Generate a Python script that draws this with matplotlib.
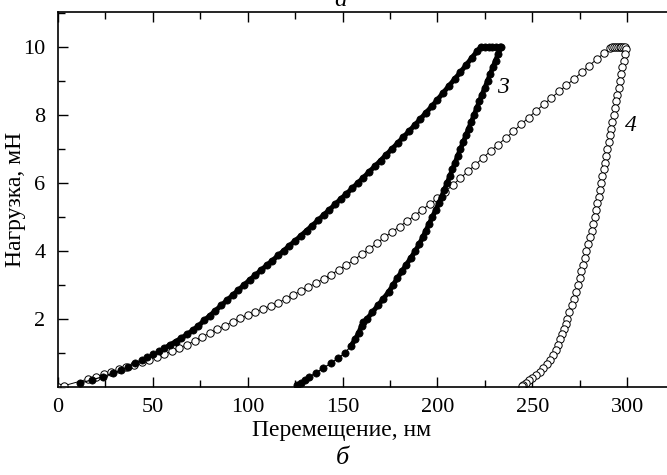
import numpy as np
import matplotlib
matplotlib.use('Agg')
import matplotlib.pyplot as plt
from matplotlib.ticker import MultipleLocator

plt.rcParams['font.family'] = ['Liberation Serif', 'DejaVu Serif']

# curve 3 (filled), loading branch + hold at 10 mN
load3_x = [11.6, 17.7, 23.8, 29, 33, 37, 40.5, 44, 47, 50, 53, 56, 59, 62, 65, 68, 71, 74, 77, 80,
           83, 86, 89, 92, 95, 98, 101, 104, 107, 110, 113, 116, 119, 122, 125, 128, 131, 134, 137, 140,
           143, 146, 149, 152, 155, 158, 161, 164, 167, 170, 173, 176, 179, 182, 185, 188, 191, 194, 197, 200,
           203, 206, 209, 212, 215, 218, 221, 223, 225, 227, 229, 231, 233]
load3_y = [0.12, 0.21, 0.31, 0.41, 0.50, 0.60, 0.70, 0.79, 0.88, 0.96, 1.05, 1.14, 1.24, 1.34, 1.44, 1.55, 1.67, 1.80, 1.96, 2.10,
           2.25, 2.40, 2.55, 2.70, 2.85, 3.00, 3.15, 3.29, 3.44, 3.58, 3.72, 3.87, 4.01, 4.16, 4.30, 4.45, 4.60, 4.75, 4.90, 5.06,
           5.21, 5.37, 5.53, 5.68, 5.84, 6.00, 6.16, 6.33, 6.49, 6.66, 6.83, 7.00, 7.17, 7.35, 7.52, 7.70, 7.88, 8.07, 8.25, 8.45,
           8.65, 8.85, 9.05, 9.25, 9.46, 9.67, 9.88, 10.0, 10.0, 10.0, 10.0, 10.0, 10.0]

# curve 3 unloading branch
unl3_x = [233.5, 232.1, 230.6, 229.2, 227.8, 226.4, 225.0, 223.5, 222.1, 220.7, 219.3, 217.9, 216.4, 215.0, 213.6,
          212.1, 210.7, 209.3, 207.9, 206.5, 205.1, 203.6, 202.2, 200.7, 199.0, 197.3, 195.6, 193.9, 192.2, 190.4,
          188.3, 186.0, 183.6, 181.2, 178.8, 176.6, 174.3, 171.5, 168.6, 165.7, 162.8, 161.0, 160.0, 158.5, 156.6,
          154.2, 151.2, 147.5, 143.8, 139.6, 136.0, 132.5, 130.0, 128.0, 126.2]
unl3_y = [10.0, 9.8, 9.6, 9.4, 9.2, 9.0, 8.8, 8.6, 8.4, 8.2, 8.0, 7.8, 7.6, 7.4, 7.2,
          7.0, 6.8, 6.6, 6.4, 6.2, 6.0, 5.8, 5.6, 5.4, 5.2, 5.0, 4.8, 4.6, 4.4, 4.2,
          4.0, 3.8, 3.6, 3.4, 3.2, 3.0, 2.8, 2.6, 2.4, 2.2, 2.0, 1.9, 1.8, 1.6, 1.4,
          1.2, 1.0, 0.85, 0.7, 0.55, 0.42, 0.3, 0.2, 0.12, 0.05]

# curve 4 (open), loading branch + hold
load4_x = [0, 3, 16, 20, 24, 28, 32, 36, 40, 44, 48, 52, 56, 60, 64, 68, 72, 76, 80, 84, 88, 92, 96, 100,
           104, 108, 112, 116, 120, 124, 128, 132, 136, 140, 144, 148, 152, 156, 160, 164, 168, 172, 176, 180,
           184, 188, 192, 196, 200, 204, 208, 212, 216, 220, 224, 228, 232, 236, 240, 244, 248, 252, 256, 260,
           264, 268, 272, 276, 280, 284, 288, 291, 292, 293, 294, 295, 296, 297, 298, 299]
load4_y = [0, 0.04, 0.24, 0.31, 0.38, 0.45, 0.52, 0.59, 0.66, 0.73, 0.81, 0.89, 0.97, 1.06, 1.15, 1.25, 1.36, 1.48, 1.59, 1.70, 1.81, 1.91, 2.02, 2.12,
           2.21, 2.30, 2.39, 2.48, 2.59, 2.71, 2.83, 2.94, 3.06, 3.18, 3.31, 3.45, 3.59, 3.74, 3.90, 4.06, 4.23, 4.40, 4.56, 4.72,
           4.88, 5.04, 5.22, 5.38, 5.55, 5.74, 5.94, 6.14, 6.34, 6.54, 6.74, 6.94, 7.13, 7.32, 7.52, 7.72, 7.92, 8.12, 8.31, 8.50,
           8.69, 8.87, 9.06, 9.25, 9.45, 9.64, 9.83, 9.97, 10.0, 10.0, 10.0, 10.01, 10.0, 10.0, 10.0, 9.99]

# curve 4 unloading branch
unl4_x = [299.3, 298.8, 298.2, 297.5, 296.9, 296.2, 295.5, 294.9, 294.2, 293.6, 292.9, 292.2, 291.6, 290.9, 290.3,
          289.6, 288.9, 288.3, 287.6, 287.0, 286.3, 285.6, 285.0, 284.3, 283.7, 283.0, 282.2, 281.3, 280.4, 279.4,
          278.5, 277.6, 276.7, 275.8, 274.9, 274.0, 273.0, 271.9, 270.8, 269.6, 268.5, 267.6, 266.7, 265.8, 264.8,
          263.7, 262.4, 261.0, 259.5, 257.8, 255.9, 253.8, 251.7, 249.8, 248.0, 246.5, 245.3, 244.5]
unl4_y = [9.95, 9.8, 9.6, 9.4, 9.2, 9.0, 8.8, 8.6, 8.4, 8.2, 8.0, 7.8, 7.6, 7.4, 7.2,
          7.0, 6.8, 6.6, 6.4, 6.2, 6.0, 5.8, 5.6, 5.4, 5.2, 5.0, 4.8, 4.6, 4.4, 4.2,
          4.0, 3.8, 3.6, 3.4, 3.2, 3.0, 2.8, 2.6, 2.4, 2.2, 2.0, 1.85, 1.7, 1.55, 1.4,
          1.25, 1.1, 0.95, 0.8, 0.68, 0.56, 0.45, 0.36, 0.28, 0.2, 0.13, 0.07, 0.03]

fig = plt.figure(figsize=(6.67, 4.75), dpi=100)
ax = fig.add_axes([0.087, 0.185, 0.913, 0.79])

x3 = load3_x + unl3_x
y3 = load3_y + unl3_y
x4 = load4_x + unl4_x
y4 = load4_y + unl4_y

# dense part of curve 3 looks like a solid thick line
dense = [(x, y) for x, y in zip(x3, y3) if y >= 1.1]
dx = [p[0] for p in dense]
dy = [p[1] for p in dense]

ax.plot(x4, y4, color='black', lw=0.7, marker='o', ms=5.3, mfc='white', mec='black', mew=0.7, zorder=2)
ax.plot(x3, y3, color='black', lw=0.9, marker='o', ms=5.2, mfc='black', mec='black', mew=0.5, zorder=3)
ax.plot(dx[:60], dy[:60], color='black', lw=3.5, zorder=3, solid_capstyle='round')
ax.plot(dx[60:], dy[60:], color='black', lw=3.5, zorder=3, solid_capstyle='round')

ax.set_xlim(0, 321)
ax.set_ylim(0, 11.03)
ax.xaxis.set_major_locator(MultipleLocator(50))
ax.xaxis.set_minor_locator(MultipleLocator(25))
ax.set_yticks([2, 4, 6, 8, 10])
ax.yaxis.set_minor_locator(MultipleLocator(1))
ax.tick_params(which='both', direction='in', top=True, right=False, labelsize=16, width=1)
ax.tick_params(which='major', length=7)
ax.tick_params(which='minor', length=5)
ax.tick_params(axis='x', pad=8)
ax.tick_params(axis='y', pad=9)
ax.spines['right'].set_visible(False)
for s in ['left', 'bottom', 'top']:
    ax.spines[s].set_linewidth(1.2)

ax.set_xlabel('Перемещение, нм', fontsize=17)
ax.set_ylabel('Нагрузка, мН', fontsize=17)
ax.xaxis.set_label_coords(0.466, -0.088)
ax.yaxis.set_label_coords(-0.052, 0.5)

ax.text(234.5, 8.8, '3', fontsize=17, style='italic', ha='center', va='center')
ax.text(301.9, 7.7, '4', fontsize=17, style='italic', ha='center', va='center')

fig.text(0.51, 1.0, 'а', fontsize=18, style='italic', ha='center', va='center')
fig.text(0.514, 0.035, 'б', fontsize=19, style='italic', ha='center', va='center')

fig.savefig('out.png', dpi=100)
